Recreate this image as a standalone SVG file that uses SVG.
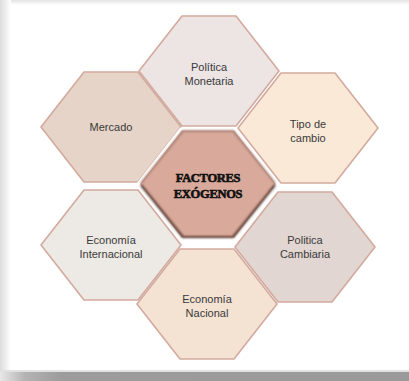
<svg xmlns="http://www.w3.org/2000/svg" width="409" height="381" viewBox="0 0 409 381">
  <defs>
    <style>
      .hex { stroke: #d3aa9e; stroke-width: 1.6; stroke-linejoin: round; }
      .lbl { font-family: "Liberation Sans", Arial, sans-serif; font-size: 11px; fill: #3a3a3a; text-anchor: middle; }
      .core { font-family: "Liberation Serif", "Times New Roman", serif; font-size: 12.5px; font-weight: bold; fill: #111; text-anchor: middle; stroke: #111; stroke-width: 0.6; letter-spacing: -0.3px; }
    </style>
    <polygon id="hexshape" points="-70,0 -27,-55 27,-55 70,0 27,55 -27,55"/>
    <linearGradient id="leftFade" x1="0" y1="0" x2="1" y2="0">
      <stop offset="0" stop-color="#dcdcdc"/>
      <stop offset="1" stop-color="#ffffff"/>
    </linearGradient>
    <linearGradient id="topFade" x1="0" y1="0" x2="0" y2="1">
      <stop offset="0" stop-color="#e4e4e4"/>
      <stop offset="1" stop-color="#ffffff"/>
    </linearGradient>
    <linearGradient id="bottomBand" x1="0" y1="0" x2="1" y2="0">
      <stop offset="0" stop-color="#e8e8e8"/>
      <stop offset="0.06" stop-color="#b4b4b4"/>
      <stop offset="0.15" stop-color="#9c9c9c"/>
      <stop offset="1" stop-color="#9a9a9a"/>
    </linearGradient>
    <filter id="bevel" x="-10%" y="-10%" width="120%" height="120%">
      <feGaussianBlur stdDeviation="1.2"/>
    </filter>
  </defs>

  <!-- card frame -->
  <rect x="0" y="0" width="409" height="381" fill="#ffffff"/>
  <rect x="0" y="0" width="409" height="5" fill="url(#topFade)"/>
  <rect x="0" y="0" width="11" height="372" fill="url(#leftFade)"/>
  <rect x="0" y="370" width="409" height="2" fill="#e2e2e2"/>
  <rect x="0" y="372" width="409" height="9" fill="url(#bottomBand)"/>

  <g id="connectors"/>

  <g id="politica-monetaria">
    <use href="#hexshape" x="209" y="71" class="hex" fill="#ede4e4"/>
    <text class="lbl" x="209" y="71">Política</text>
    <text class="lbl" x="209" y="84.5">Monetaria</text>
  </g>

  <g id="mercado">
    <use href="#hexshape" x="111" y="127" class="hex" fill="#e5d4c7"/>
    <text class="lbl" x="111" y="131">Mercado</text>
  </g>

  <g id="tipo-de-cambio">
    <use href="#hexshape" x="308" y="128" class="hex" fill="#fbe9d7"/>
    <text class="lbl" x="308" y="128">Tipo de</text>
    <text class="lbl" x="308" y="141.5">cambio</text>
  </g>

  <g id="economia-internacional">
    <use href="#hexshape" x="111" y="245" class="hex" fill="#ede9e4"/>
    <text class="lbl" x="111" y="244">Economía</text>
    <text class="lbl" x="111" y="257.5">Internacional</text>
  </g>

  <g id="politica-cambiaria">
    <use href="#hexshape" x="305" y="247" class="hex" fill="#e2d6d2"/>
    <text class="lbl" x="305" y="244">Politica</text>
    <text class="lbl" x="305" y="258">Cambiaria</text>
  </g>

  <g id="economia-nacional">
    <use href="#hexshape" x="207" y="304" class="hex" fill="#f4e2d3"/>
    <text class="lbl" x="207" y="303">Economía</text>
    <text class="lbl" x="207" y="317">Nacional</text>
  </g>

  <g id="factores-exogenos">
    <use href="#hexshape" x="208" y="184" fill="#d9aa9b" stroke="#ffffff" stroke-width="3" stroke-linejoin="round"/>
    <g transform="translate(208 184)" filter="url(#bevel)">
      <polyline points="-67,1 -25,53 25,53 67,1" fill="none" stroke="#5a3d35" stroke-width="2.2" stroke-linejoin="round"/>
      <polyline points="-67,-1 -25,-53 25,-53 67,-1" fill="none" stroke="#9a7468" stroke-width="1.5" stroke-linejoin="round"/>
    </g>
    <text class="core" x="208" y="182">FACTORES</text>
    <text class="core" x="208" y="198">EXÓGENOS</text>
  </g>
</svg>
